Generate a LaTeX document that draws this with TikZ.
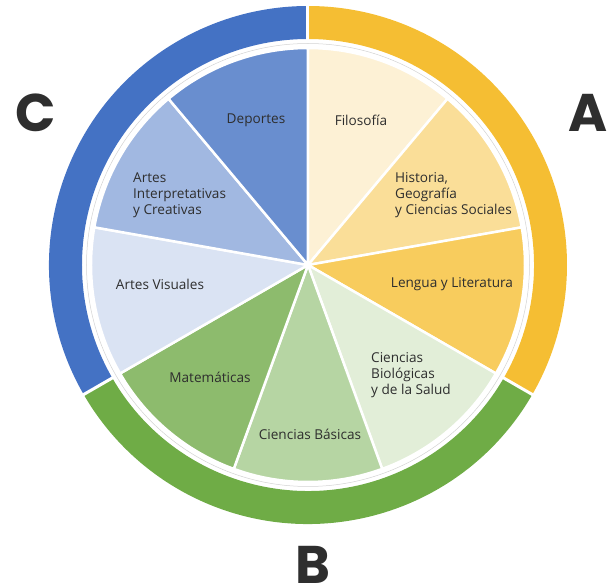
\documentclass[tikz,border=0pt]{standalone}
\usepackage{fontspec}
\setmainfont{Open Sans}
\newfontfamily\letterfont{Poppins}
\usepackage{tikz}
\usepackage{xcolor}
\usetikzlibrary{positioning}

\definecolor{ringA}{HTML}{F5BE33}
\definecolor{ringB}{HTML}{6FAC46}
\definecolor{ringC}{HTML}{4472C4}
\definecolor{filo}{HTML}{FDF1D5}
\definecolor{hist}{HTML}{FADE98}
\definecolor{leng}{HTML}{F8CC5D}
\definecolor{bio}{HTML}{E2EED8}
\definecolor{basic}{HTML}{B6D5A3}
\definecolor{mate}{HTML}{8DBB6D}
\definecolor{visual}{HTML}{DAE3F3}
\definecolor{interp}{HTML}{A1B8E1}
\definecolor{depor}{HTML}{698ECF}
\definecolor{labeltext}{HTML}{2E2E2E}

\begin{document}
\begin{tikzpicture}[x=1pt,y=1pt,
    slice/.style={draw=white, line width=2.5pt, line join=round},
    area/.style={font=\fontsize{13.6}{16}\selectfont, text=labeltext, inner sep=0pt, align=left},
    bigletter/.style={font=\letterfont\bfseries\fontsize{53}{53}\selectfont, text=labeltext,
      inner sep=0pt, text height=37pt, text depth=0pt}]
  \useasboundingbox (-308,-321) rectangle (303,265);
  \coordinate (centre) at (0,0);

  % outer ring, three groups
  \fill[ringA] (centre) ++(90:259pt) arc[start angle=90, end angle=-30, radius=259pt]
    -- ++(150:33pt) arc[start angle=-30, end angle=90, radius=226pt] -- cycle;
  \fill[ringB] (centre) ++(-30:259pt) arc[start angle=-30, end angle=-150, radius=259pt]
    -- ++(30:33pt) arc[start angle=-150, end angle=-30, radius=226pt] -- cycle;
  \fill[ringC] (centre) ++(-150:259pt) arc[start angle=-150, end angle=-270, radius=259pt]
    -- ++(-90:33pt) arc[start angle=90, end angle=210, radius=226pt] -- cycle;
  \foreach \a in {90,-30,-150}
    \draw[white, line width=3pt] (centre) ++(\a:200pt) -- ++(\a:62pt);

  % thin line in the white band
  \draw[gray!35, line width=0.5pt] (centre) circle[radius=221.5pt];

  % pie slices, clockwise from the top
  \foreach \c [count=\i from 0] in {filo,hist,leng,bio,basic,mate,visual,interp,depor}
    \filldraw[slice, fill=\c] (centre) -- ++(90-40*\i:217pt)
      arc[start angle=90-40*\i, end angle=50-40*\i, radius=217pt] -- cycle;

  % labels
  \node[area] (filosofia) at (53,145) {Filosofía};
  \node[area, anchor=west] (historia) at (87,70) {Historia,\\Geografía\\y Ciencias Sociales};
  \node[area] (lengua) at (144,-19) {Lengua y Literatura};
  \node[area, anchor=west] (biologia) at (63,-110) {Ciencias\\Biológicas\\y de la Salud};
  \node[area] (basicas) at (2,-169) {Ciencias Básicas};
  \node[area] (matematicas) at (-98,-112) {Matemáticas};
  \node[area] (visuales) at (-148,-19) {Artes Visuales};
  \node[area, anchor=west] (interpretativas) at (-175,70) {Artes\\Interpretativas\\y Creativas};
  \node[area] (deportes) at (-52,145) {Deportes};

  % group letters
  \node[bigletter] (groupA) at (280,152) {A};
  \node[bigletter] (groupB) at (5,-300) {B};
  \node[bigletter] (groupC) at (-272,152) {C};
\end{tikzpicture}
\end{document}
